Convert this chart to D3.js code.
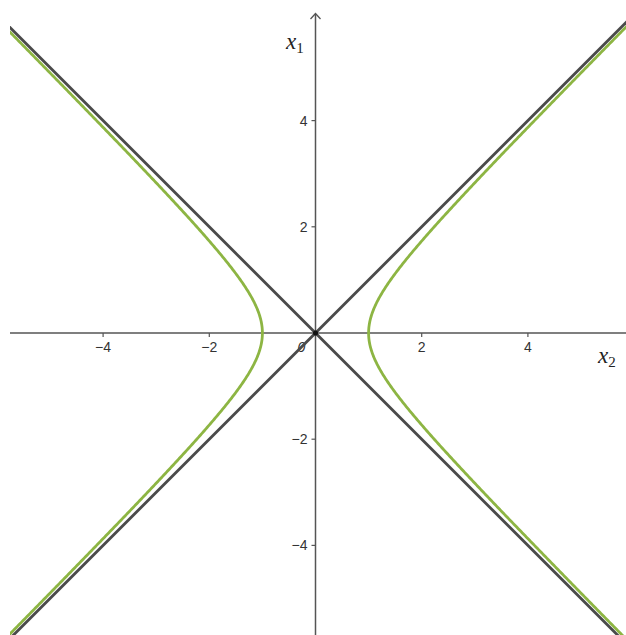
<!DOCTYPE html>
<html>
<head>
<meta charset="utf-8">
<script src="https://cdn.jsdelivr.net/npm/d3@7"></script>
<style>
  body { margin: 0; background: #fff; }
  svg { display: block; }
  .tick text { font-family: "Liberation Sans", Arial, sans-serif; font-size: 14px; fill: #333; }
  .lbl { font-family: "Liberation Serif", "DejaVu Serif", serif; font-style: italic; fill: #222; }
</style>
</head>
<body>
<div id="chart"></div>
<script>
// axis ticks
var xTicks = [-4, -2, 2, 4];
var yTicks = [-4, -2, 2, 4];
// asymptotes x1 = k * x2
var asymSlopes = [1, -1];
// hyperbola x2^2 / a^2 - x1^2 / b^2 = 1, both branches
var hypA = 1, hypB = 1;
var branches = [1, -1];

var W = 626, H = 635;
var clip = {left: 10, top: 10, right: 626, bottom: 635};

var x = d3.scaleLinear().domain([0, 1]).range([315.5, 315.5 + 53.1]);
var y = d3.scaleLinear().domain([0, 1]).range([333, 333 - 53.1]);

var svg = d3.select("#chart").append("svg").attr("width", W).attr("height", H);

svg.append("defs").append("clipPath").attr("id", "plot")
    .append("rect").attr("x", clip.left).attr("y", clip.top)
    .attr("width", clip.right - clip.left).attr("height", clip.bottom - clip.top);

var axisColor = "#555";

// x axis
var xAxis = svg.append("g").attr("transform", "translate(0," + y(0) + ")");
xAxis.append("line").attr("x1", clip.left).attr("x2", clip.right)
    .attr("stroke", axisColor).attr("stroke-width", 1.5);
xAxis.selectAll(".tick").data(xTicks).enter().append("g").attr("class", "tick")
    .attr("transform", function (d) { return "translate(" + x(d) + ",0)"; })
    .each(function (d) {
        var g = d3.select(this);
        g.append("line").attr("y1", 0).attr("y2", 4).attr("stroke", axisColor).attr("stroke-width", 1.2);
        g.append("text").attr("y", 19).attr("text-anchor", "middle")
            .text(d < 0 ? "\u2212" + Math.abs(d) : d);
    });

// y axis
var yAxis = svg.append("g").attr("transform", "translate(" + x(0) + ",0)");
yAxis.append("line").attr("y1", 14).attr("y2", clip.bottom)
    .attr("stroke", axisColor).attr("stroke-width", 1.5);
yAxis.append("path").attr("d", "M-5,19 L0,13.5 L5,19")
    .attr("fill", "none").attr("stroke", axisColor).attr("stroke-width", 1.3);
yAxis.selectAll(".tick").data(yTicks).enter().append("g").attr("class", "tick")
    .attr("transform", function (d) { return "translate(0," + y(d) + ")"; })
    .each(function (d) {
        var g = d3.select(this);
        g.append("line").attr("x1", -4).attr("x2", 0).attr("stroke", axisColor).attr("stroke-width", 1.2);
        g.append("text").attr("x", -8).attr("dy", "0.35em").attr("text-anchor", "end")
            .text(d < 0 ? "\u2212" + Math.abs(d) : d);
    });

svg.append("text").attr("x", x(0) - 14).attr("y", y(0) + 19)
    .style("font-family", "Liberation Sans, Arial, sans-serif").style("font-size", "14px")
    .style("font-style", "italic").attr("fill", "#333").attr("text-anchor", "middle").text("0");

// axis labels
var l1 = svg.append("text").attr("class", "lbl").attr("x", 286).attr("y", 49).style("font-size", "23px");
l1.append("tspan").text("x");
l1.append("tspan").style("font-style", "normal").style("font-size", "15px").attr("dy", 4).text("1");
var l2 = svg.append("text").attr("class", "lbl").attr("x", 598).attr("y", 363).style("font-size", "23px");
l2.append("tspan").text("x");
l2.append("tspan").style("font-style", "normal").style("font-size", "15px").attr("dy", 4).text("2");

var plot = svg.append("g").attr("clip-path", "url(#plot)");

// hyperbola branches
var t = d3.range(-7, 7.001, 0.02);
var line = d3.line().x(function (d) { return x(d[0]); }).y(function (d) { return y(d[1]); });
branches.forEach(function (s) {
    var pts = t.map(function (v) { return [s * hypA * Math.sqrt(1 + (v / hypB) * (v / hypB)), v]; });
    plot.append("path").attr("d", line(pts)).attr("fill", "none")
        .attr("stroke", "#8db543").attr("stroke-width", 2.8);
});

// asymptotes
asymSlopes.forEach(function (k) {
    plot.append("line")
        .attr("x1", x(-8)).attr("y1", y(-8 * k))
        .attr("x2", x(8)).attr("y2", y(8 * k))
        .attr("stroke", "#4a4a4a").attr("stroke-width", 2.8);
});

// origin point
svg.append("circle").attr("cx", x(0)).attr("cy", y(0)).attr("r", 2.5).attr("fill", "#111");
</script>
</body>
</html>
